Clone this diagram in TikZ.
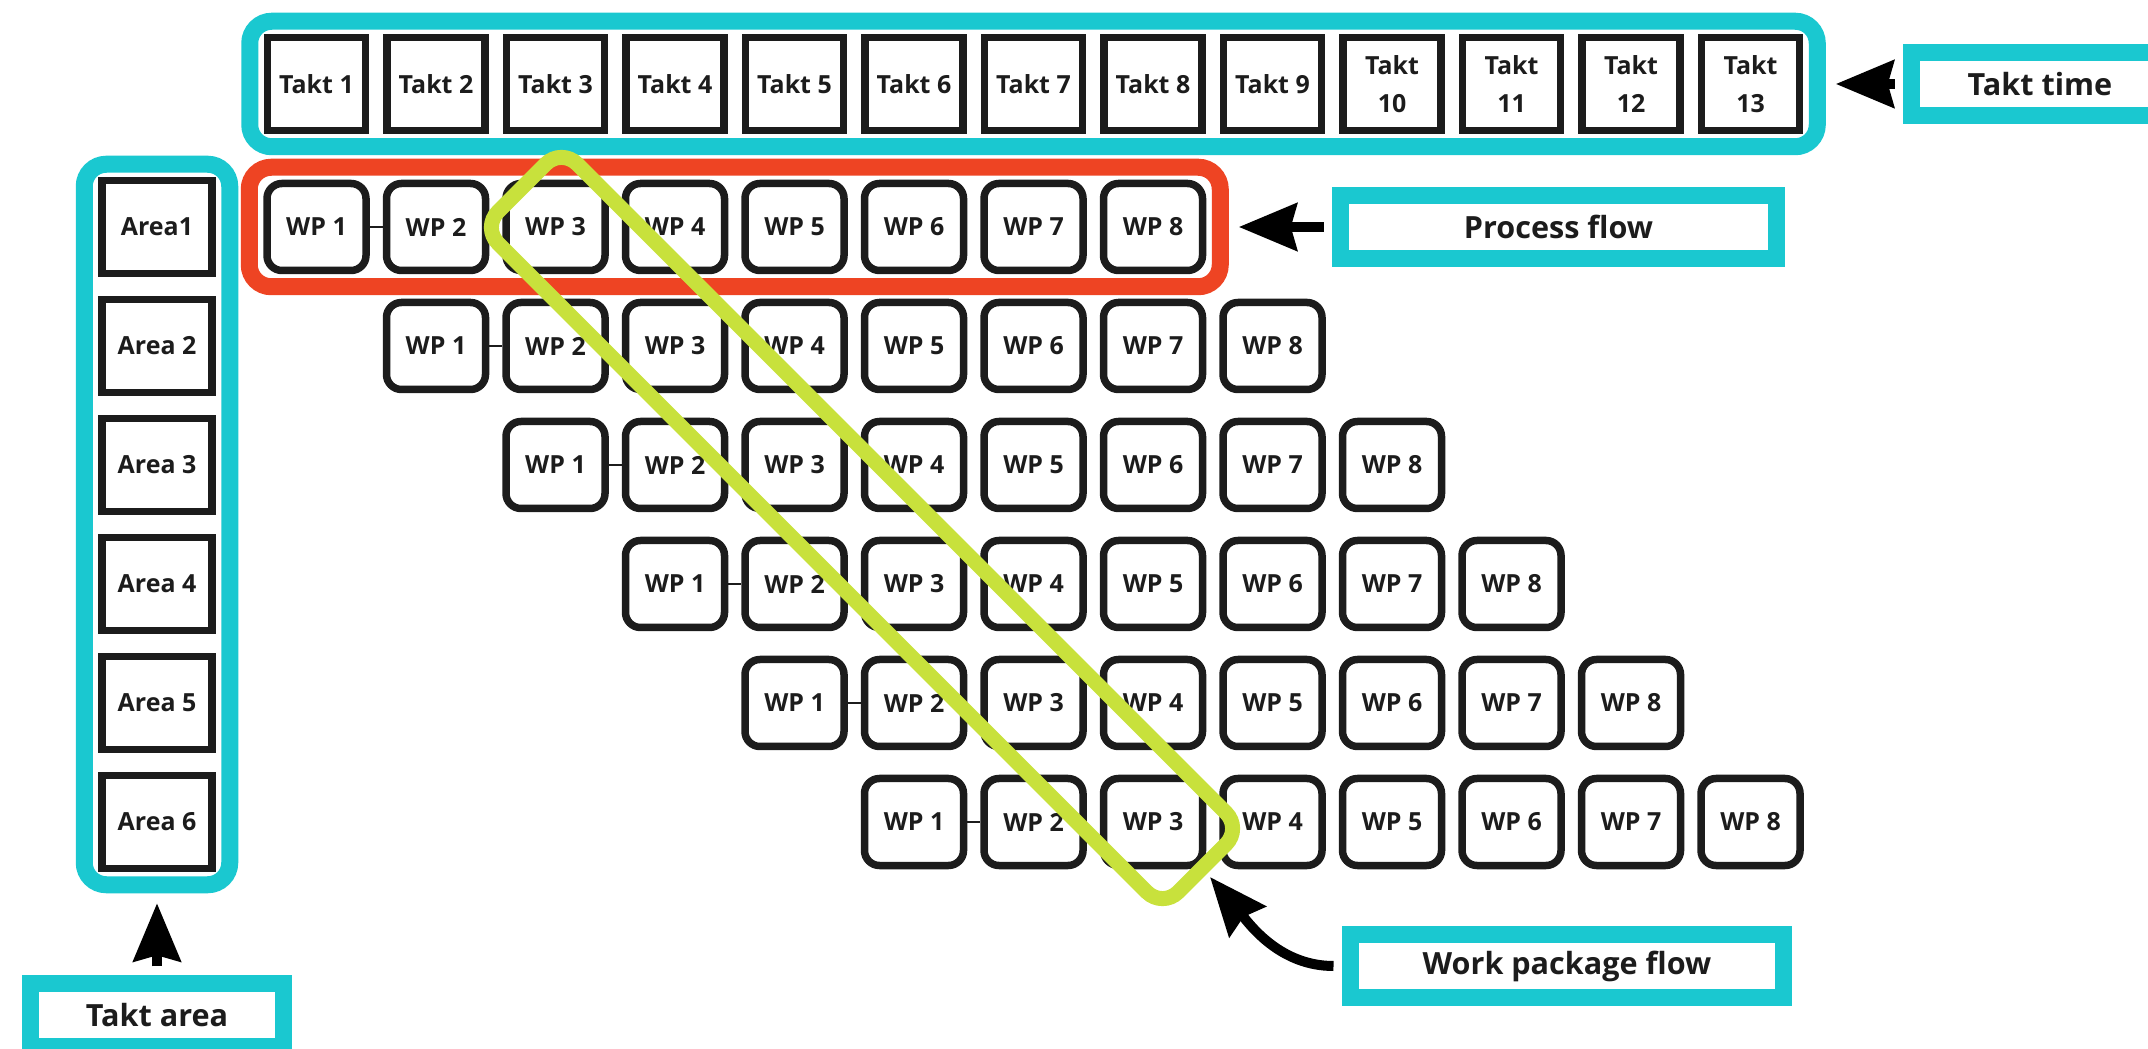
\documentclass[tikz,border=0pt]{standalone}
\usepackage{fontspec}
\setmainfont{Open Sans}
\usetikzlibrary{arrows.meta,fit}
\definecolor{taktcyan}{RGB}{26,200,208}
\definecolor{flowred}{RGB}{238,68,35}
\definecolor{wpgreen}{RGB}{200,225,60}
\definecolor{boxblack}{RGB}{28,28,28}

\begin{document}
\begin{tikzpicture}[
    cell/.style={draw=boxblack, line width=0.075cm, fill=white, inner sep=0pt, align=center, text=boxblack, font=\fontsize{7.1}{10.8}\selectfont\bfseries},
    taktcell/.style={cell, minimum width=0.98cm, minimum height=0.93cm},
    areacell/.style={cell, minimum width=1.10cm, minimum height=0.93cm},
    wpcell/.style={cell, rounded corners=0.15cm, minimum width=0.99cm, minimum height=0.87cm},
    frame/.style={line width=0.17cm, rounded corners=0.22cm, inner xsep=0.14cm, inner ysep=0.125cm},
    tag/.style={draw=taktcyan, line width=0.17cm, fill=white, minimum width=#1, minimum height=0.63cm, inner sep=0pt, text=boxblack, font=\fontsize{8.7}{10}\selectfont\bfseries},
    bigarrow/.style={-{Stealth[length=0.58cm, width=0.47cm, inset=0.06cm]}, line width=0.1cm, shorten <=0.085cm, draw=black}
]
    \useasboundingbox (0,0) rectangle (21.48,-10.49);

    \foreach \i in {1,...,9}
        \node[taktcell] (t\i) at ({3.165+(\i-1)*1.195},-0.84) {Takt \i};
    \foreach \i in {10,...,13}
        \node[taktcell] (t\i) at ({3.165+(\i-1)*1.195},-0.84) {Takt\\\i};

    \node[areacell] (a1) at (1.57,-2.27) {Area1};
    \foreach \j in {2,...,6}
        \node[areacell] (a\j) at (1.57,{-2.27-(\j-1)*1.19}) {Area \j};

    \foreach \r in {1,...,6}
        \foreach \k in {1,...,8}
            \node[wpcell] (wp\r-\k) at ({3.165+(\r+\k-2)*1.195},{-2.27-(\r-1)*1.19}) {WP \k};
    \foreach \r in {1,...,6}
        \draw[line width=0.02cm, boxblack] (wp\r-1.east) -- (wp\r-2.west);

    \node[frame, draw=taktcyan, fit=(t1)(t13)] (taktframe) {};
    \node[frame, draw=taktcyan, fit=(a1)(a6)] (areaframe) {};
    \node[frame, draw=flowred, fit=(wp1-1)(wp1-8)] (processframe) {};

    \node[tag=2.57cm] (taktlabel) at (20.40,-0.84) {Takt time};
    \node[tag=4.36cm] (processlabel) at (15.585,-2.27) {Process flow};
    \node[tag=4.33cm] (wplabel) at (15.67,-9.66) {Work package flow};
    \node[tag=2.53cm] (arealabel) at (1.57,-10.15) {Takt area};

    \draw[bigarrow] (taktlabel.west) -- ([xshift=0.1cm]taktframe.east);
    \draw[bigarrow] (processlabel.west) -- ([xshift=0.1cm]processframe.east);
    \draw[bigarrow] (arealabel.north) -- ([yshift=-0.1cm]areaframe.south);
    \coordinate (wptip) at (12.10,-8.77);
    \draw[bigarrow] (wplabel.west) to[out=180, in=-50] (wptip);

    \node[draw=wpgreen, line width=0.15cm, rounded corners=0.22cm, inner sep=0pt, minimum width=9.62cm, minimum height=1.12cm, rotate=-45] (wpflow) at (8.62,-5.28) {};
\end{tikzpicture}
\end{document}
